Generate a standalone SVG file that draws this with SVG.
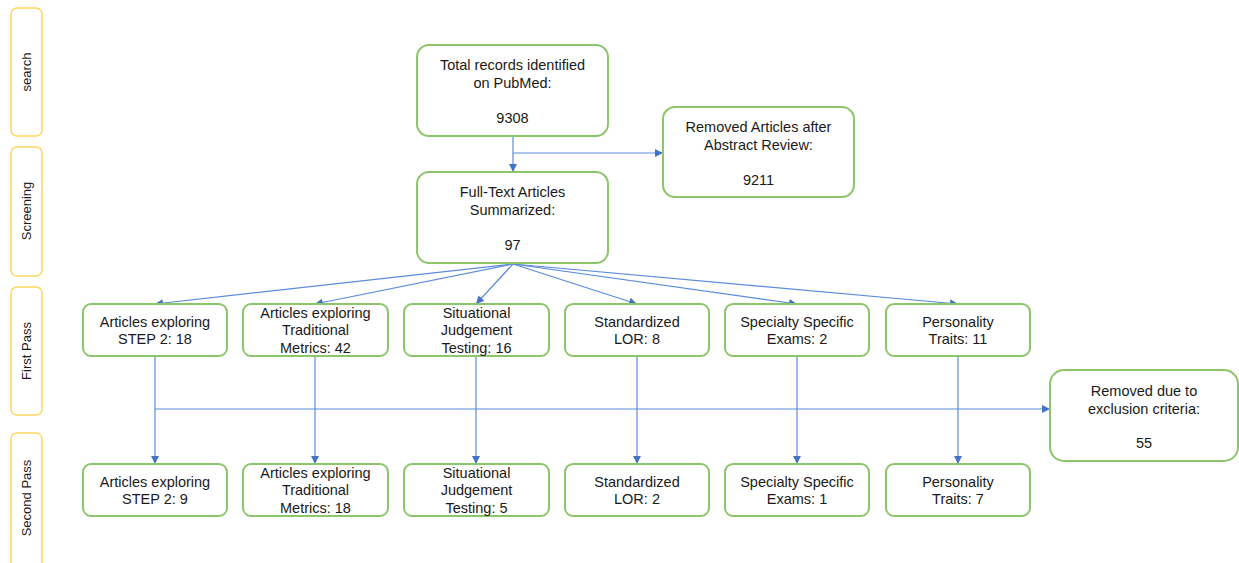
<svg xmlns="http://www.w3.org/2000/svg" width="1239" height="563" viewBox="0 0 1239 563">
<style>
.stage{fill:#fff;stroke:#FFD75E;stroke-width:1.5}
.box{fill:#fff;stroke:#8CC56A;stroke-width:2}
.t{font-family:"Liberation Sans",Arial,sans-serif;font-size:14.5px;fill:#1a1a1a;text-anchor:middle}
.s{font-family:"Liberation Sans",Arial,sans-serif;font-size:13px;fill:#1a1a1a;text-anchor:middle}
.c{fill:none;stroke:#5B8BDB;stroke-width:1.2}
</style>
<defs>
<marker id="ah" viewBox="0 0 10 10" refX="10" refY="5" markerWidth="8" markerHeight="8" markerUnits="userSpaceOnUse" orient="auto">
<path d="M0,0 L10,5 L0,10 z" fill="#4472C4"/>
</marker>
</defs>
<rect width="1239" height="563" fill="#fff"/>
<g id="stage-search"><rect class="stage" x="11" y="8" width="31" height="128" rx="6"/><text class="s" transform="translate(31,72) rotate(-90)">search</text></g>
<g id="stage-screening"><rect class="stage" x="11" y="147" width="31" height="129" rx="6"/><text class="s" transform="translate(31,211) rotate(-90)">Screening</text></g>
<g id="stage-first"><rect class="stage" x="11" y="287" width="31" height="128" rx="6"/><text class="s" transform="translate(31,351) rotate(-90)">First Pass</text></g>
<g id="stage-second"><rect class="stage" x="11" y="433" width="31" height="140" rx="6"/><text class="s" transform="translate(31,498) rotate(-90)">Second Pass</text></g>

<g id="connectors">
<path class="c" d="M513,137 V172" marker-end="url(#ah)"/>
<path class="c" d="M513,153 H663" marker-end="url(#ah)"/>
<path class="c" d="M513,264 L155,304" marker-end="url(#ah)"/>
<path class="c" d="M513,264 L315,304" marker-end="url(#ah)"/>
<path class="c" d="M513,264 L476,304" marker-end="url(#ah)"/>
<path class="c" d="M513,264 L637,304" marker-end="url(#ah)"/>
<path class="c" d="M513,264 L797,304" marker-end="url(#ah)"/>
<path class="c" d="M513,264 L958,304" marker-end="url(#ah)"/>
<path class="c" d="M155,356 V464" marker-end="url(#ah)"/>
<path class="c" d="M315,356 V464" marker-end="url(#ah)"/>
<path class="c" d="M476,356 V464" marker-end="url(#ah)"/>
<path class="c" d="M637,356 V464" marker-end="url(#ah)"/>
<path class="c" d="M797,356 V464" marker-end="url(#ah)"/>
<path class="c" d="M958,356 V464" marker-end="url(#ah)"/>
<path class="c" d="M155,409 H1050" marker-end="url(#ah)"/>
</g>

<g id="total"><rect class="box" x="417" y="45" width="191" height="91" rx="12"/>
<text class="t" x="512.5" y="70">Total records identified</text><text class="t" x="512.5" y="88">on PubMed:</text><text class="t" x="512.5" y="123">9308</text></g>
<g id="removed-abstract"><rect class="box" x="663" y="107" width="191" height="90" rx="12"/>
<text class="t" x="758.5" y="132">Removed Articles after</text><text class="t" x="758.5" y="150">Abstract Review:</text><text class="t" x="758.5" y="185">9211</text></g>
<g id="fulltext"><rect class="box" x="417" y="172" width="191" height="91" rx="12"/>
<text class="t" x="512.5" y="197">Full-Text Articles</text><text class="t" x="512.5" y="215">Summarized:</text><text class="t" x="512.5" y="250">97</text></g>

<g id="fp-step2"><rect class="box" x="83" y="304" width="144" height="52" rx="8"/>
<text class="t" x="155" y="327">Articles exploring</text><text class="t" x="155" y="344">STEP 2: 18</text></g>
<g id="fp-trad"><rect class="box" x="243" y="304" width="145" height="52" rx="8"/>
<text class="t" x="315.5" y="318">Articles exploring</text><text class="t" x="315.5" y="335">Traditional</text><text class="t" x="315.5" y="353">Metrics: 42</text></g>
<g id="fp-sjt"><rect class="box" x="404" y="304" width="145" height="52" rx="8"/>
<text class="t" x="476.5" y="318">Situational</text><text class="t" x="476.5" y="335">Judgement</text><text class="t" x="476.5" y="353">Testing: 16</text></g>
<g id="fp-lor"><rect class="box" x="565" y="304" width="144" height="52" rx="8"/>
<text class="t" x="637" y="327">Standardized</text><text class="t" x="637" y="344">LOR: 8</text></g>
<g id="fp-spec"><rect class="box" x="725" y="304" width="144" height="52" rx="8"/>
<text class="t" x="797" y="327">Specialty Specific</text><text class="t" x="797" y="344">Exams: 2</text></g>
<g id="fp-pers"><rect class="box" x="886" y="304" width="144" height="52" rx="8"/>
<text class="t" x="958" y="327">Personality</text><text class="t" x="958" y="344">Traits: 11</text></g>

<g id="removed-exclusion"><rect class="box" x="1050" y="370" width="188" height="91" rx="14"/>
<text class="t" x="1144" y="396">Removed due to</text><text class="t" x="1144" y="414">exclusion criteria:</text><text class="t" x="1144" y="448">55</text></g>

<g id="sp-step2"><rect class="box" x="83" y="464" width="144" height="52" rx="8"/>
<text class="t" x="155" y="487">Articles exploring</text><text class="t" x="155" y="504">STEP 2: 9</text></g>
<g id="sp-trad"><rect class="box" x="243" y="464" width="145" height="52" rx="8"/>
<text class="t" x="315.5" y="478">Articles exploring</text><text class="t" x="315.5" y="495">Traditional</text><text class="t" x="315.5" y="513">Metrics: 18</text></g>
<g id="sp-sjt"><rect class="box" x="404" y="464" width="145" height="52" rx="8"/>
<text class="t" x="476.5" y="478">Situational</text><text class="t" x="476.5" y="495">Judgement</text><text class="t" x="476.5" y="513">Testing: 5</text></g>
<g id="sp-lor"><rect class="box" x="565" y="464" width="144" height="52" rx="8"/>
<text class="t" x="637" y="487">Standardized</text><text class="t" x="637" y="504">LOR: 2</text></g>
<g id="sp-spec"><rect class="box" x="725" y="464" width="144" height="52" rx="8"/>
<text class="t" x="797" y="487">Specialty Specific</text><text class="t" x="797" y="504">Exams: 1</text></g>
<g id="sp-pers"><rect class="box" x="886" y="464" width="144" height="52" rx="8"/>
<text class="t" x="958" y="487">Personality</text><text class="t" x="958" y="504">Traits: 7</text></g>
</svg>
